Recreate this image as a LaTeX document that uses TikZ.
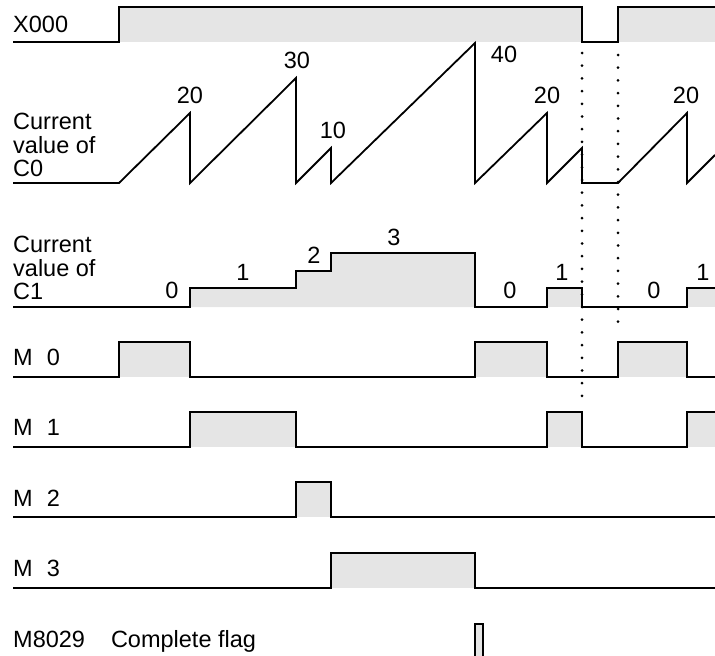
\documentclass[tikz,border=0pt]{standalone}
\usepackage{fontspec}
\setmainfont{Liberation Sans}
\usetikzlibrary{positioning}

\tikzset{
  sig/.style={line width=2.2pt, line join=miter},
  saw/.style={line width=1.8pt, line join=miter},
  hi/.style={fill=gray!20},
  lbl/.style={anchor=base west, inner sep=0pt},
  val/.style={anchor=base, inner sep=0pt},
  marker/.style={line width=3pt, line cap=round, dash pattern=on 0pt off 12.7pt}
}

\begin{document}
\begin{tikzpicture}[x=1pt, y=-1pt, font=\fontsize{23.5}{23.5}\selectfont]
    \useasboundingbox (0,0) rectangle (715,656);

    % X000 row
    \node[lbl] (x000) at (13,32) {X000};
    \fill[hi] (119,7) rectangle (582,42);
    \fill[hi] (618,7) rectangle (715,42);
    \draw[sig] (13,42) -- (119,42) -- (119,7) -- (582,7) -- (582,42) -- (618,42) -- (618,7) -- (715,7);

    % C0 row
    \node[lbl, align=left, anchor=south west] (c0) at (13,177) {Current\\value of\\C0};
    \draw[saw] (13,183) -- (119,183) -- (190,113) -- (190,183) -- (296,78) -- (296,183) -- (331,148) -- (331,183)
        -- (475,43) -- (475,183) -- (547,113) -- (547,183) -- (582,148) -- (582,183) -- (618,183) -- (687,113)
        -- (687,183) -- (715,155);
    \foreach \x/\y/\v [count=\k] in {190/103/20, 297/68/30, 333/138/10, 504/62/40, 547/103/20, 686/103/20} {
        \node[val] (cnt\k) at (\x,\y) {\v};
    }

    % C1 row
    \node[lbl, align=left, anchor=south west] (c1) at (13,300) {Current\\value of\\C1};
    \fill[hi] (190,307) -- (190,288) -- (296,288) -- (296,271) -- (331,271) -- (331,253) -- (475,253) -- (475,307) -- cycle;
    \fill[hi] (547,307) rectangle (582,288);
    \fill[hi] (687,307) rectangle (715,288);
    \draw[sig] (13,307) -- (190,307) -- (190,288) -- (296,288) -- (296,271) -- (331,271) -- (331,253) -- (475,253)
        -- (475,307) -- (547,307) -- (547,288) -- (582,288) -- (582,307) -- (687,307) -- (687,288) -- (715,288);
    \foreach \x/\y/\v [count=\k] in {172/298/0, 243/280/1, 314/263/2, 394/245/3, 510/298/0, 562/280/1, 654/298/0, 703/280/1} {
        \node[val] (step\k) at (\x,\y) {\v};
    }

    % M rows
    \node[lbl] (m0) at (13,365) {M\hspace{14pt}0};
    \node[lbl] (m1) at (13,435) {M\hspace{14pt}1};
    \node[lbl] (m2) at (13,506) {M\hspace{14pt}2};
    \node[lbl] (m3) at (13,576) {M\hspace{14pt}3};
    \foreach \lo/\a/\b in {377/119/190, 377/475/547, 377/618/687, 447/190/296, 447/547/582, 447/687/715, 517/296/331, 588/331/475} {
        \fill[hi] (\a,\lo) rectangle (\b,\lo-35);
    }
    \draw[sig] (13,377) -- (119,377) -- (119,342) -- (190,342) -- (190,377) -- (475,377) -- (475,342) -- (547,342)
        -- (547,377) -- (618,377) -- (618,342) -- (687,342) -- (687,377) -- (715,377);
    \draw[sig] (13,447) -- (190,447) -- (190,412) -- (296,412) -- (296,447) -- (547,447) -- (547,412) -- (582,412)
        -- (582,447) -- (687,447) -- (687,412) -- (715,412);
    \draw[sig] (13,517) -- (296,517) -- (296,482) -- (331,482) -- (331,517) -- (715,517);
    \draw[sig] (13,588) -- (331,588) -- (331,553) -- (475,553) -- (475,588) -- (715,588);

    % M8029 row
    \node[lbl] (m8029) at (13,647) {M8029\hspace{26pt}Complete flag};
    \fill[hi] (475,656) rectangle (483,624);
    \draw[saw] (475,656) -- (475,624) -- (483,624) -- (483,656);

    % dotted markers
    \draw[marker] (582,53) -- (582,402);
    \draw[marker] (618,55) -- (618,330);
\end{tikzpicture}
\end{document}
